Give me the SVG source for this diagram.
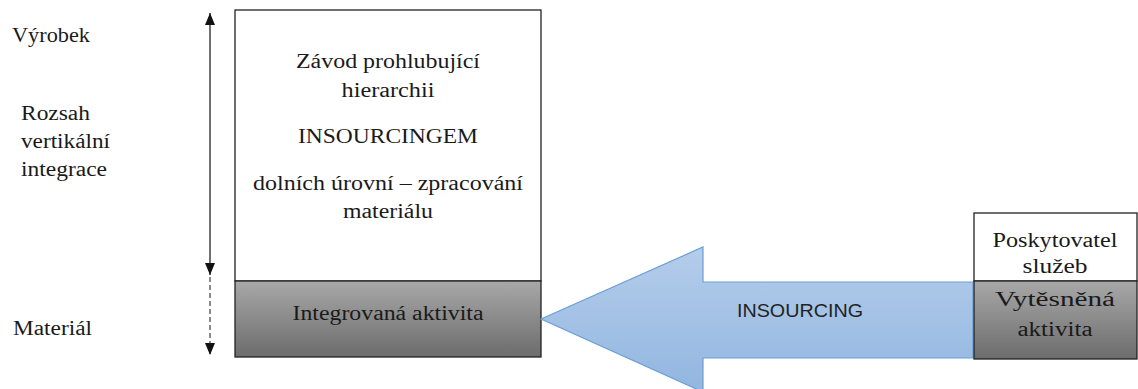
<svg xmlns="http://www.w3.org/2000/svg" width="1138" height="389" viewBox="0 0 1138 389">
<style>
.serif{font-family:"Liberation Serif","Times New Roman",serif;font-size:20px;fill:#1a1a1a}
.sans{font-family:"Liberation Sans",Arial,sans-serif;font-size:18px;fill:#222}
.box{fill:#fff;stroke:#222;stroke-width:1.3}
.gray{fill:url(#g);stroke:#222;stroke-width:1.3}
</style>
<defs>
<linearGradient id="g" x1="0" y1="0" x2="0" y2="1">
<stop offset="0" stop-color="#a8a8a8"/>
<stop offset="1" stop-color="#6c6c6c"/>
</linearGradient>
<linearGradient id="b" x1="0" y1="0" x2="0" y2="1">
<stop offset="0" stop-color="#b4cdea"/>
<stop offset="1" stop-color="#92b6e0"/>
</linearGradient>
<marker id="ah" viewBox="0 0 12 10" refX="12" refY="5" markerWidth="12" markerHeight="10" markerUnits="userSpaceOnUse" orient="auto-start-reverse">
<path d="M0,0 L12,5 L0,10 Z" fill="#111"/>
</marker>
</defs>
<g id="labels">
<text class="serif" x="12" y="42" textLength="78" lengthAdjust="spacingAndGlyphs">Výrobek</text>
<text class="serif" x="21" y="120" textLength="69" lengthAdjust="spacingAndGlyphs">Rozsah</text>
<text class="serif" x="21" y="148" textLength="89" lengthAdjust="spacingAndGlyphs">vertikální</text>
<text class="serif" x="21" y="176" textLength="86" lengthAdjust="spacingAndGlyphs">integrace</text>
<text class="serif" x="13" y="335" textLength="79" lengthAdjust="spacingAndGlyphs">Materiál</text>
</g>
<g id="plant">
<rect class="box" x="235" y="10" width="306" height="271"/>
<text class="serif" text-anchor="middle" x="388" y="68" textLength="184" lengthAdjust="spacingAndGlyphs">Závod prohlubující</text>
<text class="serif" text-anchor="middle" x="388" y="97" textLength="93" lengthAdjust="spacingAndGlyphs">hierarchii</text>
<text class="serif" text-anchor="middle" x="388" y="143" textLength="180" lengthAdjust="spacingAndGlyphs">INSOURCINGEM</text>
<text class="serif" text-anchor="middle" x="388" y="190" textLength="270" lengthAdjust="spacingAndGlyphs">dolních úrovní – zpracování</text>
<text class="serif" text-anchor="middle" x="388" y="218" textLength="90" lengthAdjust="spacingAndGlyphs">materiálu</text>
</g>
<g id="integrated">
<rect class="gray" x="235" y="281" width="306" height="76"/>
<text class="serif" text-anchor="middle" x="388" y="320" textLength="191" lengthAdjust="spacingAndGlyphs">Integrovaná aktivita</text>
</g>
<g id="insourcing-arrow">
<path d="M541,319 L703,247 L703,282 L973,282 L973,358 L703,358 L703,392 Z" fill="url(#b)" stroke="#6a9fd6" stroke-width="1.2"/>
<text class="sans" x="737" y="317" textLength="126" lengthAdjust="spacingAndGlyphs">INSOURCING</text>
</g>
<g id="provider">
<rect class="box" x="974" y="213" width="163" height="68"/>
<text class="serif" text-anchor="middle" x="1055" y="247" textLength="125" lengthAdjust="spacingAndGlyphs">Poskytovatel</text>
<text class="serif" text-anchor="middle" x="1055" y="273" textLength="65" lengthAdjust="spacingAndGlyphs">služeb</text>
</g>
<g id="displaced">
<rect class="gray" x="974" y="281" width="163" height="78"/>
<text class="serif" text-anchor="middle" x="1055" y="306" textLength="120" lengthAdjust="spacingAndGlyphs">Vytěsněná</text>
<text class="serif" text-anchor="middle" x="1055" y="336" textLength="75" lengthAdjust="spacingAndGlyphs">aktivita</text>
</g>
<g id="connectors">
<line x1="210" y1="13" x2="210" y2="275" stroke="#222" stroke-width="1.3" marker-start="url(#ah)" marker-end="url(#ah)"/>
<line x1="210" y1="277" x2="210" y2="355" stroke="#666" stroke-width="1.5" stroke-dasharray="5,3" marker-end="url(#ah)"/>
</g>
</svg>
